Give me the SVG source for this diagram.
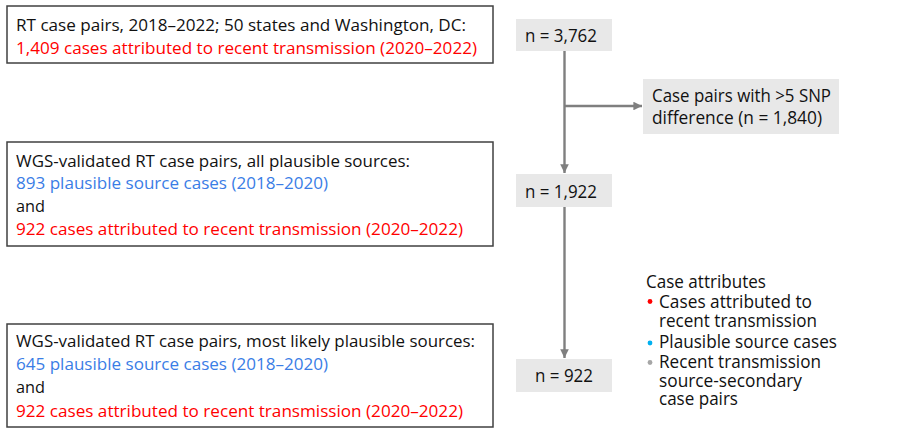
<svg xmlns="http://www.w3.org/2000/svg" width="900" height="434" viewBox="0 0 900 434">
<defs>
<style>
text{font-family:"Open Sans",Lato,"Liberation Sans",sans-serif;font-size:17px;fill:#111}
.lg{font-size:17.5px}
.box{fill:#fff;stroke:#404040;stroke-width:1.5}
.nbox{fill:#e8e8e8;stroke:none}
.red{fill:#ff0000}
.blue{fill:#3a7de6}
.conn{stroke:#7f7f7f;stroke-width:2.4;fill:none}
</style>
<marker id="ah" viewBox="0 0 10 10" refX="10" refY="5" markerWidth="3.6" markerHeight="3.6" orient="auto" markerUnits="strokeWidth">
<path d="M0,0 L10,5 L0,10 z" fill="#7f7f7f"/>
</marker>
</defs>
<rect width="900" height="434" fill="#fff"/>

<g id="box1">
<rect class="box" x="7" y="6" width="486" height="57"/>
<text x="16" y="31" textLength="450" lengthAdjust="spacingAndGlyphs">RT case pairs, 2018–2022; 50 states and Washington, DC:</text>
<text class="red" x="16" y="53.5" textLength="461" lengthAdjust="spacingAndGlyphs">1,409 cases attributed to recent transmission (2020–2022)</text>
</g>

<g id="box2">
<rect class="box" x="7" y="142" width="486" height="104"/>
<text x="16" y="166.5" textLength="394" lengthAdjust="spacingAndGlyphs">WGS-validated RT case pairs, all plausible sources:</text>
<text class="blue" x="16" y="189" textLength="312" lengthAdjust="spacingAndGlyphs">893 plausible source cases (2018–2020)</text>
<text x="16" y="212" textLength="29" lengthAdjust="spacingAndGlyphs">and</text>
<text class="red" x="16" y="234.5" textLength="447" lengthAdjust="spacingAndGlyphs">922 cases attributed to recent transmission (2020–2022)</text>
</g>

<g id="box3">
<rect class="box" x="7" y="324" width="486" height="103"/>
<text x="16" y="347" textLength="459" lengthAdjust="spacingAndGlyphs">WGS-validated RT case pairs, most likely plausible sources:</text>
<text class="blue" x="16" y="370" textLength="312" lengthAdjust="spacingAndGlyphs">645 plausible source cases (2018–2020)</text>
<text x="16" y="393" textLength="29" lengthAdjust="spacingAndGlyphs">and</text>
<text class="red" x="16" y="416.5" textLength="447" lengthAdjust="spacingAndGlyphs">922 cases attributed to recent transmission (2020–2022)</text>
</g>

<g id="connectors">
<line class="conn" x1="564.5" y1="51" x2="564.5" y2="173" marker-end="url(#ah)"/>
<line class="conn" x1="564.5" y1="106" x2="642" y2="106" marker-end="url(#ah)"/>
<line class="conn" x1="564.5" y1="207" x2="564.5" y2="358" marker-end="url(#ah)"/>
</g>

<g id="n3762">
<rect class="nbox" x="516" y="19" width="96" height="32"/>
<text class="lg" x="525" y="42.3" textLength="72" lengthAdjust="spacingAndGlyphs">n = 3,762</text>
</g>

<g id="snp">
<rect class="nbox" x="643" y="79" width="196" height="55"/>
<text class="lg" x="652" y="101.7" textLength="179" lengthAdjust="spacingAndGlyphs">Case pairs with &gt;5 SNP</text>
<text class="lg" x="652" y="123.5" textLength="170" lengthAdjust="spacingAndGlyphs">difference (n = 1,840)</text>
</g>

<g id="n1922">
<rect class="nbox" x="516" y="174" width="96" height="33"/>
<text class="lg" x="525" y="197.5" textLength="72" lengthAdjust="spacingAndGlyphs">n = 1,922</text>
</g>

<g id="n922">
<rect class="nbox" x="516" y="359" width="96" height="33"/>
<text class="lg" x="535" y="382" textLength="58" lengthAdjust="spacingAndGlyphs">n = 922</text>
</g>

<g id="legend">
<text class="lg" x="646" y="288.3" textLength="120" lengthAdjust="spacingAndGlyphs">Case attributes</text>
<circle cx="650" cy="301.5" r="2.4" fill="#ff0000"/>
<text class="lg" x="659" y="308" textLength="153" lengthAdjust="spacingAndGlyphs">Cases attributed to</text>
<text class="lg" x="659" y="327" textLength="158" lengthAdjust="spacingAndGlyphs">recent transmission</text>
<circle cx="650" cy="343" r="2.4" fill="#00b0f0"/>
<text class="lg" x="659" y="348" textLength="178" lengthAdjust="spacingAndGlyphs">Plausible source cases</text>
<circle cx="650" cy="362.5" r="2.4" fill="#a6a6a6"/>
<text class="lg" x="659" y="368" textLength="162" lengthAdjust="spacingAndGlyphs">Recent transmission</text>
<text class="lg" x="659" y="386.5" textLength="143" lengthAdjust="spacingAndGlyphs">source-secondary</text>
<text class="lg" x="659" y="405" textLength="79" lengthAdjust="spacingAndGlyphs">case pairs</text>
</g>
</svg>
